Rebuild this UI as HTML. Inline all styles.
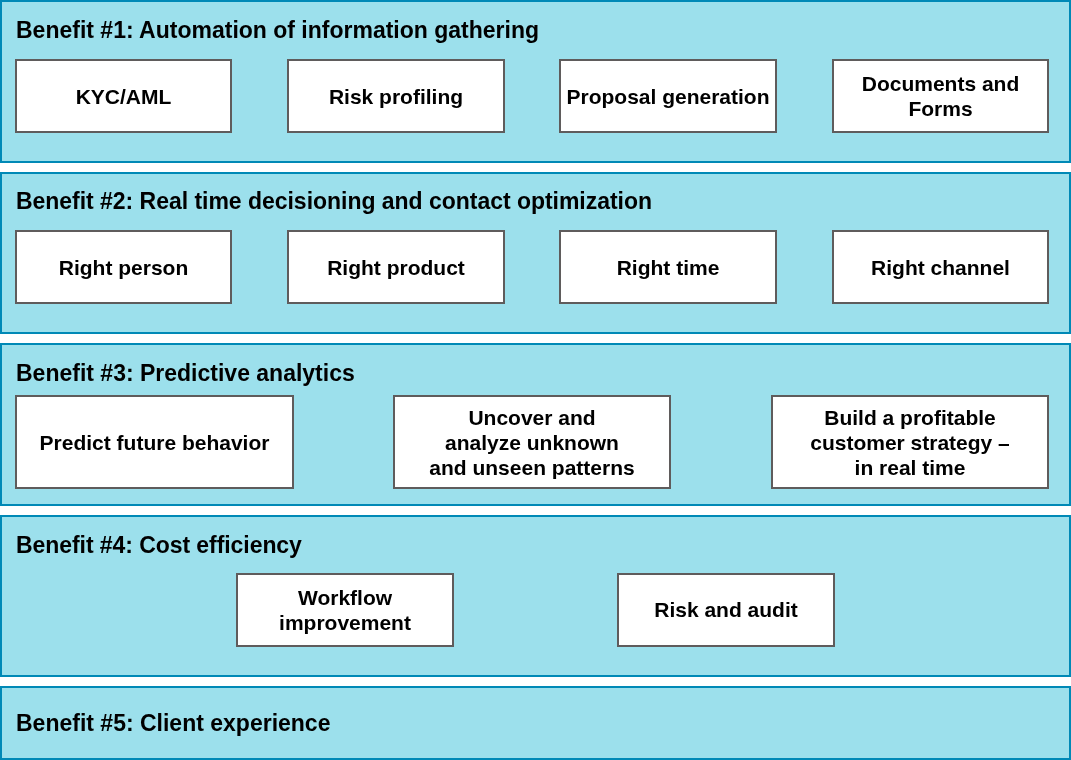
<!DOCTYPE html>
<html><head><meta charset="utf-8">
<style>
html,body{margin:0;padding:0;background:#fff;}
body{width:1071px;height:760px;position:relative;overflow:hidden;font-family:"Liberation Sans",sans-serif;font-weight:bold;color:#000;}
.p{position:absolute;left:0;width:1071px;box-sizing:border-box;border:2px solid #0089b6;background:#9ce0ec;}
.t{position:absolute;will-change:transform;left:16px;font-size:23px;line-height:27px;white-space:pre;}
.b{position:absolute;will-change:transform;box-sizing:border-box;border:2px solid #5f5c5c;background:#fff;display:flex;align-items:center;justify-content:center;text-align:center;font-size:21px;line-height:25px;white-space:pre;}
</style></head><body>
<div class="p" style="top:0;height:163px"></div>
<div class="p" style="top:172px;height:162px"></div>
<div class="p" style="top:343px;height:163px"></div>
<div class="p" style="top:515px;height:162px"></div>
<div class="p" style="top:686px;height:74px"></div>

<div class="t" style="top:17px">Benefit #1: Automation of information gathering</div>
<div class="t" style="top:188px;letter-spacing:-0.03px">Benefit #2: Real time decisioning and contact optimization</div>
<div class="t" style="top:360px">Benefit #3: Predictive analytics</div>
<div class="t" style="top:532px;letter-spacing:-0.065px">Benefit #4: Cost efficiency</div>
<div class="t" style="top:710px">Benefit #5: Client experience</div>

<div class="b" style="left:15px;top:59px;width:217px;height:74px">KYC/AML</div>
<div class="b" style="left:287px;top:59px;width:218px;height:74px">Risk profiling</div>
<div class="b" style="left:559px;top:59px;width:218px;height:74px">Proposal generation</div>
<div class="b" style="left:832px;top:59px;width:217px;height:74px">Documents and
Forms</div>

<div class="b" style="left:15px;top:230px;width:217px;height:74px">Right person</div>
<div class="b" style="left:287px;top:230px;width:218px;height:74px">Right product</div>
<div class="b" style="left:559px;top:230px;width:218px;height:74px">Right time</div>
<div class="b" style="left:832px;top:230px;width:217px;height:74px">Right channel</div>

<div class="b" style="left:15px;top:395px;width:279px;height:94px">Predict future behavior</div>
<div class="b" style="left:393px;top:395px;width:278px;height:94px">Uncover and
analyze unknown
and unseen patterns</div>
<div class="b" style="left:771px;top:395px;width:278px;height:94px">Build a profitable
customer strategy –
in real time</div>

<div class="b" style="left:236px;top:573px;width:218px;height:74px">Workflow
improvement</div>
<div class="b" style="left:617px;top:573px;width:218px;height:74px;padding-bottom:2px">Risk and audit</div>
</body></html>
